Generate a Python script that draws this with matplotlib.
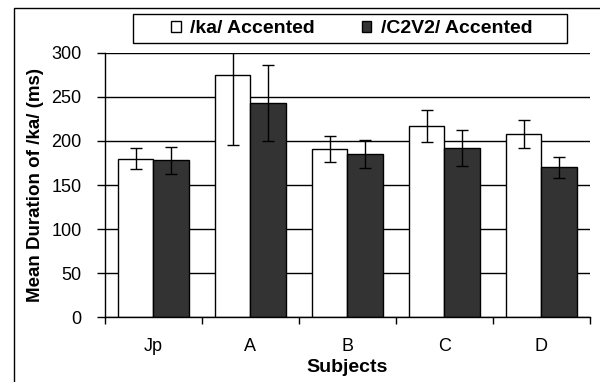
import matplotlib
matplotlib.use('Agg')
import matplotlib.pyplot as plt
import matplotlib.patches as patches
import numpy as np

plt.rcParams['font.family'] = ['Liberation Sans', 'DejaVu Sans']

# data
subjects = ['Jp', 'A', 'B', 'C', 'D']
ka_mean = [180, 275, 191, 217, 208]
ka_err = [12, 80, 15, 18, 16]
c2v2_mean = [178, 243, 185, 192, 170]
c2v2_err = [15, 43, 16, 20, 12]
yticks = [0, 50, 100, 150, 200, 250, 300]


def main():
    fig = plt.figure(figsize=(6, 3.82), dpi=100)
    ax = fig.add_axes([0.175, 0.169, 0.808, 0.693])

    x = np.arange(len(subjects))
    w = 0.364

    ax.bar(x - w / 2, ka_mean, w, color='white', edgecolor='black',
           linewidth=1, zorder=2, label='/ka/ Accented')
    ax.bar(x + w / 2, c2v2_mean, w, color='#333333', edgecolor='black',
           linewidth=1, zorder=2, label='/C2V2/ Accented')
    ax.errorbar(x - w / 2, ka_mean, yerr=ka_err, fmt='none', ecolor='black',
                elinewidth=1, capsize=4, capthick=1, zorder=3)
    ax.errorbar(x + w / 2, c2v2_mean, yerr=c2v2_err, fmt='none', ecolor='black',
                elinewidth=1, capsize=4, capthick=1, zorder=3)

    ax.set_xlim(-0.5, len(subjects) - 0.5)
    ax.set_ylim(0, 300)
    ax.set_yticks(yticks)
    ax.yaxis.grid(True, color='black', linewidth=1)
    ax.set_axisbelow(True)

    ax.set_xticks(x)
    ax.set_xticklabels(subjects, fontsize=13)
    ax.set_xticks(np.arange(-0.5, len(subjects)), minor=True)
    ax.tick_params(axis='x', which='major', length=0, pad=15)
    ax.tick_params(axis='x', which='minor', length=5, width=1, direction='out')
    ax.tick_params(axis='y', length=6, width=1, direction='out', labelsize=13, pad=11)

    for side in ['top', 'right']:
        ax.spines[side].set_visible(False)
    ax.spines['left'].set_linewidth(1)
    ax.spines['bottom'].set_linewidth(1)

    ax.set_xlabel('Subjects', fontsize=14, fontweight='bold', labelpad=3)
    ax.set_ylabel('Mean Duration of /ka/ (ms)', fontsize=13.5, fontweight='bold', labelpad=5)

    # legend box drawn by hand, entries centred in it
    lx0, lx1 = 133 / 600, 567 / 600
    ly0, ly1 = 1 - 43 / 382, 1 - 14 / 382
    box = patches.Rectangle((lx0, ly0), lx1 - lx0, ly1 - ly0,
                            transform=fig.transFigure, fill=False,
                            edgecolor='black', linewidth=1)
    fig.patches.append(box)
    h, l = ax.get_legend_handles_labels()
    fig.legend(h, l, loc='center', bbox_to_anchor=((lx0 + lx1) / 2 + 0.003, (ly0 + ly1) / 2),
               ncol=2, frameon=False, handlelength=0.5, handleheight=0.5,
               handletextpad=0.5, columnspacing=2.4, borderpad=0,
               prop={'weight': 'bold', 'size': 14})

    # outer chart frame, cut off at right and bottom
    frame = patches.Rectangle((14 / 600, -0.2), 1.0, 1 - 8 / 382 + 0.2,
                              transform=fig.transFigure, fill=False,
                              edgecolor='black', linewidth=1)
    fig.patches.append(frame)

    fig.savefig('out.png', dpi=100)


if __name__ == '__main__':
    main()
